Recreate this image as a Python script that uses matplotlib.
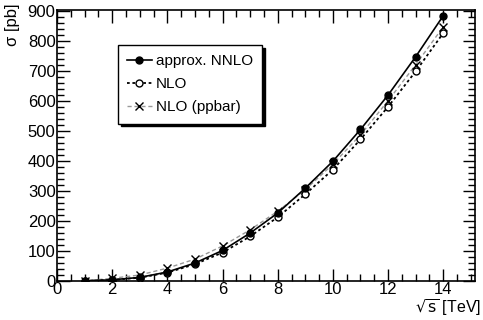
import matplotlib
matplotlib.use("Agg")
import matplotlib.pyplot as plt
from matplotlib.ticker import MultipleLocator

plt.rcParams['font.family'] = ['Liberation Sans', 'DejaVu Sans']

# sqrt(s) in TeV and cross sections in pb
sqrt_s = [1, 2, 3, 4, 5, 6, 7, 8, 9, 10, 11, 12, 13, 14]
nnlo = [0.5, 4, 12, 30, 60, 102, 160, 227, 310, 400, 506, 621, 749, 886]
nlo = [0.4, 3.5, 11, 28, 56, 95, 149, 213, 290, 372, 473, 582, 700, 828]
nlo_ppbar = [0.3, 9, 20, 43, 73, 117, 171, 233, 305, 390, 488, 602, 722, 849]

fig = plt.figure(figsize=(4.83, 3.2), dpi=100)
ax = fig.add_axes([57 / 483, 1 - 281 / 320, (475 - 57) / 483, (281 - 10) / 320])

ax.plot(sqrt_s, nlo_ppbar, color='#999999', ls=(0, (3, 2)), lw=1.0,
        marker='x', ms=5.5, mew=1.0, mec='black', label='NLO (ppbar)', zorder=2)
ax.plot(sqrt_s, nlo, color='black', ls=(0, (1.5, 1.5)), lw=1.3,
        marker='o', ms=5, mfc='white', mec='black', mew=1.0, label='NLO', zorder=3)
ax.plot(sqrt_s, nnlo, color='black', ls='-', lw=1.2,
        marker='o', ms=5, mfc='black', mec='black', label='approx. NNLO', zorder=4)

ax.set_xlim(0, 15.15)
ax.set_ylim(0, 905)
ax.xaxis.set_major_locator(MultipleLocator(2))
ax.xaxis.set_minor_locator(MultipleLocator(0.5))
ax.yaxis.set_major_locator(MultipleLocator(100))
ax.yaxis.set_minor_locator(MultipleLocator(20))
ax.tick_params(which='both', direction='in', top=True, right=True,
               labelsize=12, width=1, pad=1)
ax.tick_params(which='major', length=9)
ax.tick_params(which='minor', length=5)
for s in ax.spines.values():
    s.set_linewidth(1.2)

fig.text(481 / 483, 1 - 308 / 320, r'$\sqrt{\mathrm{s}}$ [TeV]', ha='right',
         va='center', fontsize=11.5)
fig.text(12 / 483, 1 - 4 / 320, 'σ [pb]', rotation=90, ha='center', va='top', fontsize=12)

handles, labels = ax.get_legend_handles_labels()
leg = ax.legend(handles[::-1], labels[::-1], loc='upper left',
                bbox_to_anchor=((118 - 57) / 418, (281 - 45) / 271),
                fancybox=False, shadow={'color': 'black', 'alpha': 1},
                framealpha=1, edgecolor='black',
                fontsize=11, handlelength=1.6, handletextpad=0.3,
                labelspacing=0.6, borderpad=0.6, borderaxespad=0)
leg.get_frame().set_linewidth(1.0)

fig.savefig('out.png', dpi=100)
